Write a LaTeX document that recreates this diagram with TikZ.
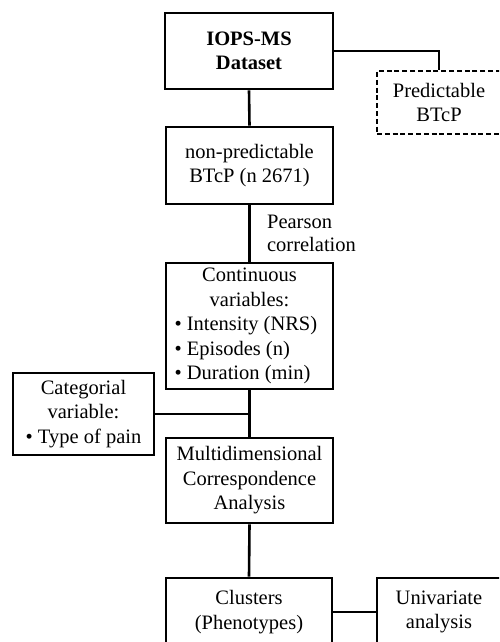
\documentclass[tikz,border=0pt]{standalone}
\usepackage{fontspec}
\setmainfont{Liberation Serif}
\usetikzlibrary{calc}

\newcommand{\itemline}[1]{\makebox[150pt][l]{\textbullet{} #1}}

\begin{document}
\begin{tikzpicture}[x=1pt, y=-1pt,
  box/.style={draw, line width=2.6pt, align=center, inner sep=0pt,
    font=\fontsize{20.5}{24.5}\selectfont},
  link/.style={line width=2.6pt}]
\clip (0,0) rectangle (499,642);

\node[box, minimum width=168pt, minimum height=76pt,
  font=\fontsize{20.5}{24.5}\selectfont\bfseries] (iops) at (249,51) {IOPS-MS\\Dataset};
\node[box, dash pattern=on 5pt off 2.8pt, minimum width=124pt, minimum height=63pt] (pred) at (439,102.5) {Predictable\\BTcP};
\node[box, minimum width=167pt, minimum height=77pt] (nonpred) at (249.5,165.5) {non-predictable\\BTcP (n 2671)};
\node[box, minimum width=167pt, minimum height=126pt] (cont) at (249.5,326)
  {Continuous\\variables:\\\itemline{Intensity (NRS)}\\\itemline{Episodes (n)}\\\itemline{Duration (min)}};
\node[box, minimum width=141pt, minimum height=82pt] (cat) at (83.5,414) {Categorial\\variable:\\\textbullet{} Type of pain};
\node[box, minimum width=167pt, minimum height=85pt] (mca) at (249.5,480.5) {Multidimensional\\Correspondence\\Analysis};
\node[box, minimum width=166pt, minimum height=68pt] (clust) at (249,612) {Clusters\\(Phenotypes)};
\node[box, minimum width=124pt, minimum height=68pt] (univ) at (439,612) {Univariate\\analysis};

\draw[link] (iops.east) -| (pred.north);
\draw[link] (iops.south) -- (nonpred.north);
\draw[link] (nonpred.south) -- node[anchor=west, xshift=13pt, align=left,
  font=\fontsize{20.5}{23}\selectfont] (pearson) {Pearson\\correlation} (cont.north);
\draw[link] (cont.south) -- (mca.north);
\draw[link] (cat.east) -- (cat.east -| cont.south);
\draw[link] (mca.south) -- (clust.north);
\draw[link] (clust.east) -- (univ.west);

\end{tikzpicture}
\end{document}
